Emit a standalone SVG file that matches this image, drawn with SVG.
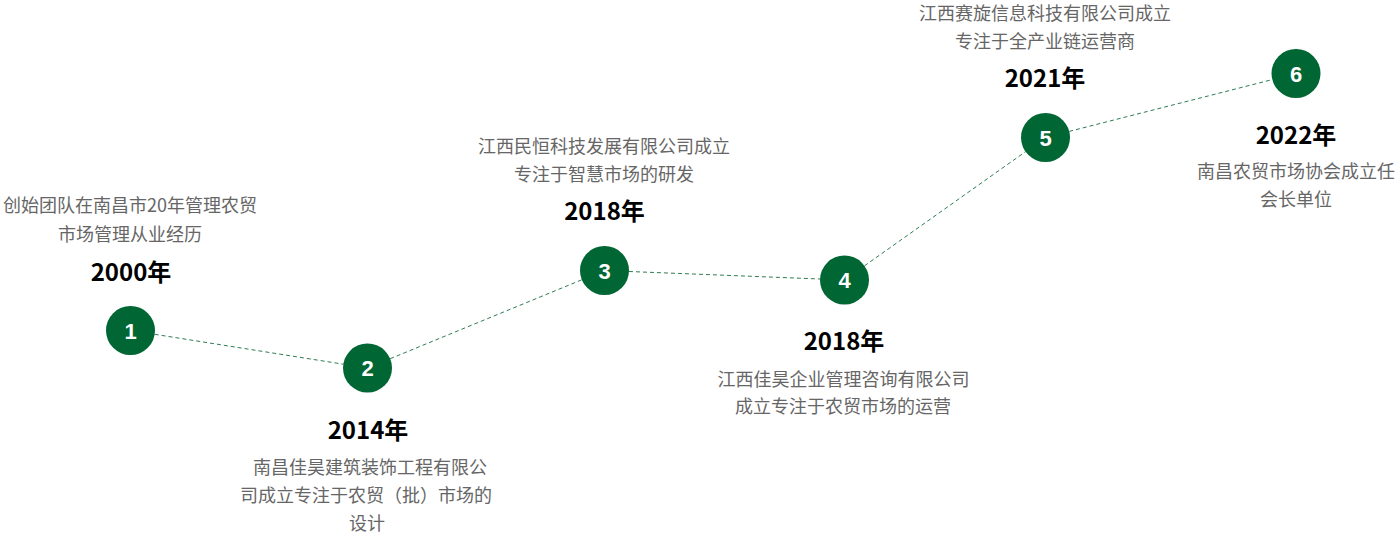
<svg xmlns="http://www.w3.org/2000/svg" width="1400" height="534" viewBox="0 0 1400 534">
<style>
.desc{font-family:"Noto Sans CJK SC","Liberation Sans",sans-serif;font-size:18px;fill:#666;text-anchor:middle}
.year{font-family:"Noto Sans CJK SC","Liberation Sans",sans-serif;font-size:24px;font-weight:bold;fill:#000;text-anchor:middle}
.dot{fill:#006633}
.num{font-family:"Liberation Sans",Arial,sans-serif;font-size:22px;font-weight:bold;fill:#fff;text-anchor:middle}
.link{stroke:#2e7d52;stroke-width:1;stroke-dasharray:4 3;fill:none}
</style>
<rect width="1400" height="534" fill="#fff"/>
<g id="connectors">
<line class="link" x1="154.7" y1="334.3" x2="343.3" y2="364.2"/>
<line class="link" x1="390.2" y1="358.7" x2="581.8" y2="279.8"/>
<line class="link" x1="629" y1="271.5" x2="820" y2="279"/>
<line class="link" x1="864.5" y1="265.8" x2="1025.5" y2="151.7"/>
<line class="link" x1="1069.2" y1="131.4" x2="1272.3" y2="79.6"/>
</g>
<g id="node1">
<text class="desc" x="130" y="212">创始团队在南昌市20年管理农贸</text>
<text class="desc" x="130" y="241">市场管理从业经历</text>
<text class="year" x="131" y="281">2000年</text>
<circle class="dot" cx="130.5" cy="330.5" r="24.5"/>
<text class="num" x="130.5" y="338.5">1</text>
</g>
<g id="node2">
<circle class="dot" cx="367.5" cy="368" r="24.5"/>
<text class="num" x="367.5" y="376">2</text>
<text class="year" x="368" y="439">2014年</text>
<text class="desc" x="370" y="473.5">南昌佳昊建筑装饰工程有限公</text>
<text class="desc" x="366" y="502">司成立专注于农贸（批）市场的</text>
<text class="desc" x="367" y="530">设计</text>
</g>
<g id="node3">
<text class="desc" x="604" y="153">江西民恒科技发展有限公司成立</text>
<text class="desc" x="604" y="180.5">专注于智慧市场的研发</text>
<text class="year" x="604.5" y="219.5">2018年</text>
<circle class="dot" cx="604.5" cy="270.5" r="24.5"/>
<text class="num" x="604.5" y="278.5">3</text>
</g>
<g id="node4">
<circle class="dot" cx="844.5" cy="280" r="24.5"/>
<text class="num" x="844.5" y="288">4</text>
<text class="year" x="844" y="350">2018年</text>
<text class="desc" x="843.5" y="386">江西佳昊企业管理咨询有限公司</text>
<text class="desc" x="843" y="413">成立专注于农贸市场的运营</text>
</g>
<g id="node5">
<text class="desc" x="1045" y="20">江西赛旋信息科技有限公司成立</text>
<text class="desc" x="1045" y="47.5">专注于全产业链运营商</text>
<text class="year" x="1045" y="87">2021年</text>
<circle class="dot" cx="1045.5" cy="137.5" r="24.5"/>
<text class="num" x="1045.5" y="145.5">5</text>
</g>
<g id="node6">
<circle class="dot" cx="1296" cy="73.5" r="24.5"/>
<text class="num" x="1296" y="81.5">6</text>
<text class="year" x="1296" y="144">2022年</text>
<text class="desc" x="1296" y="178">南昌农贸市场协会成立任</text>
<text class="desc" x="1296" y="205.5">会长单位</text>
</g>
</svg>
